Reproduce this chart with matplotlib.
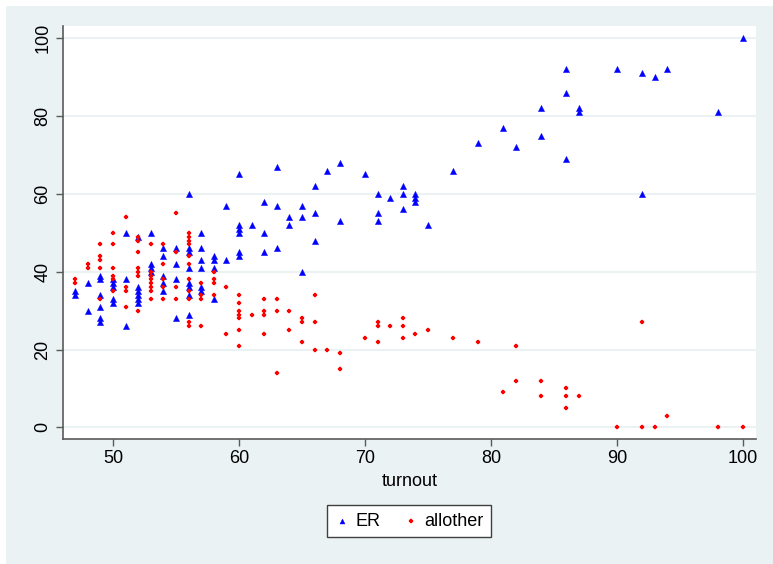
import matplotlib
matplotlib.use('Agg')
import matplotlib.pyplot as plt
from matplotlib.patches import Rectangle

plt.rcParams['font.family'] = ['Liberation Sans', 'DejaVu Sans']

# ER share by turnout
er_turnout = [47, 47, 48, 48, 49, 49, 49, 49, 49, 49, 50, 50, 50, 50, 50,
              51, 51, 51, 52, 52, 52, 52, 52, 52, 53, 53, 53, 53,
              54, 54, 54, 54, 54, 55, 55, 55, 55,
              56, 56, 56, 56, 56, 56, 56, 56, 57, 57, 57, 57, 57, 57,
              58, 58, 58, 58, 59, 59, 60, 60, 60, 60, 60, 60, 61,
              62, 62, 62, 63, 63, 63, 64, 64, 65, 65, 65, 66, 66, 66,
              67, 68, 68, 70, 71, 71, 71, 72, 73, 73, 73, 74, 74, 74, 75,
              77, 79, 81, 82, 84, 84, 86, 86, 86, 87, 87, 90, 92, 92, 93, 94,
              98, 100]
er_share = [35, 34, 37, 30, 39, 38, 34, 31, 28, 27, 38, 37, 36, 33, 32,
            50, 38, 26, 49, 36, 35, 34, 33, 32, 50, 42, 41, 40,
            46, 44, 39, 37, 35, 46, 42, 38, 28,
            60, 46, 45, 41, 37, 36, 34, 29, 50, 46, 43, 41, 36, 35,
            44, 43, 41, 33, 57, 43, 65, 52, 51, 50, 45, 44, 52,
            58, 50, 45, 67, 57, 46, 54, 52, 57, 54, 40, 62, 55, 48,
            66, 68, 53, 65, 60, 55, 53, 59, 62, 60, 56, 60, 59, 58, 52,
            66, 73, 77, 72, 82, 75, 92, 86, 69, 82, 81, 92, 91, 60, 90, 92,
            81, 100]

# all other parties
ao_turnout = [47, 47, 48, 48, 49, 49, 49, 49, 49, 50, 50, 50, 50, 50, 50,
              51, 51, 51, 51, 52, 52, 52, 52, 52, 52, 52,
              53, 53, 53, 53, 53, 53, 53, 53, 54, 54, 54, 54, 54,
              55, 55, 55, 55, 56, 56, 56, 56, 56, 56, 56, 56, 56, 56, 56,
              57, 57, 57, 57, 58, 58, 58, 58, 59, 59,
              60, 60, 60, 60, 60, 60, 60, 61, 62, 62, 62, 62, 63, 63, 63,
              64, 64, 65, 65, 65, 66, 66, 66, 67, 68, 68, 70, 71, 71, 71,
              72, 73, 73, 73, 74, 75, 77, 79, 81, 82, 82, 84, 84,
              86, 86, 86, 87, 90, 92, 92, 93, 94, 98, 100]
ao_share = [38, 37, 42, 41, 47, 44, 43, 41, 33, 50, 47, 41, 39, 38, 35,
            54, 36, 35, 31, 49, 48, 45, 41, 40, 39, 30,
            47, 40, 39, 38, 37, 36, 35, 33, 47, 42, 38, 36, 33,
            55, 45, 36, 33, 50, 49, 48, 47, 44, 42, 38, 35, 33, 27, 26,
            37, 34, 33, 26, 40, 38, 37, 34, 36, 24,
            34, 32, 30, 29, 28, 25, 21, 29, 33, 30, 29, 24, 33, 30, 14,
            30, 25, 28, 27, 22, 34, 27, 20, 20, 19, 15, 23, 27, 26, 22,
            26, 28, 26, 23, 24, 25, 23, 22, 9, 21, 12, 12, 8,
            10, 8, 5, 8, 0, 27, 0, 0, 3, 0, 0]

bg = '#EAF2F3'
fig = plt.figure(figsize=(7.73, 5.64), dpi=100, facecolor='white')
fig.patches.append(Rectangle((6 / 773, 0), 1, 1 - 6 / 564, transform=fig.transFigure,
                             facecolor=bg, edgecolor='none', zorder=-10))

ax = fig.add_axes([0.0811, 0.2211, 0.897, 0.7328])
ax.set_facecolor('white')

ax.scatter(er_turnout, er_share, marker='^', s=20, color='#0000FF',
           edgecolors='#0000FF', linewidths=0.3, label='ER', zorder=3)
ax.scatter(ao_turnout, ao_share, marker='P', s=11, color='#FF0000',
           edgecolors='#FF0000', linewidths=0.2, label='allother', zorder=3)

ax.set_xlim(46.0, 101.06)
ax.set_ylim(-3.08, 103.16)
ax.set_xticks([50, 60, 70, 80, 90, 100])
ax.set_yticks([0, 20, 40, 60, 80, 100])
ax.grid(axis='y', color=bg, linewidth=1.5, zorder=1)
ax.set_axisbelow(True)

for side in ['top', 'right']:
    ax.spines[side].set_visible(False)
for side in ['left', 'bottom']:
    ax.spines[side].set_color('#5a5a5a')
    ax.spines[side].set_linewidth(1.2)

ax.tick_params(axis='both', colors='#5a5a5a', length=5, width=1.0,
               labelsize=13, labelcolor='black', pad=3)
plt.setp(ax.get_yticklabels(), rotation=90, va='center')

ax.set_xlabel('turnout', fontsize=13, labelpad=4)

leg = fig.legend(loc='center', bbox_to_anchor=(0.529, 0.0762), ncol=2, fontsize=13,
                 frameon=True, fancybox=False, edgecolor='#404040', facecolor='white',
                 framealpha=1, handletextpad=0.3, columnspacing=1.2, handlelength=0.9,
                 borderpad=0.4, markerscale=0.8)
leg.get_frame().set_linewidth(1.0)

fig.savefig('out.png', dpi=100, facecolor=fig.get_facecolor())
